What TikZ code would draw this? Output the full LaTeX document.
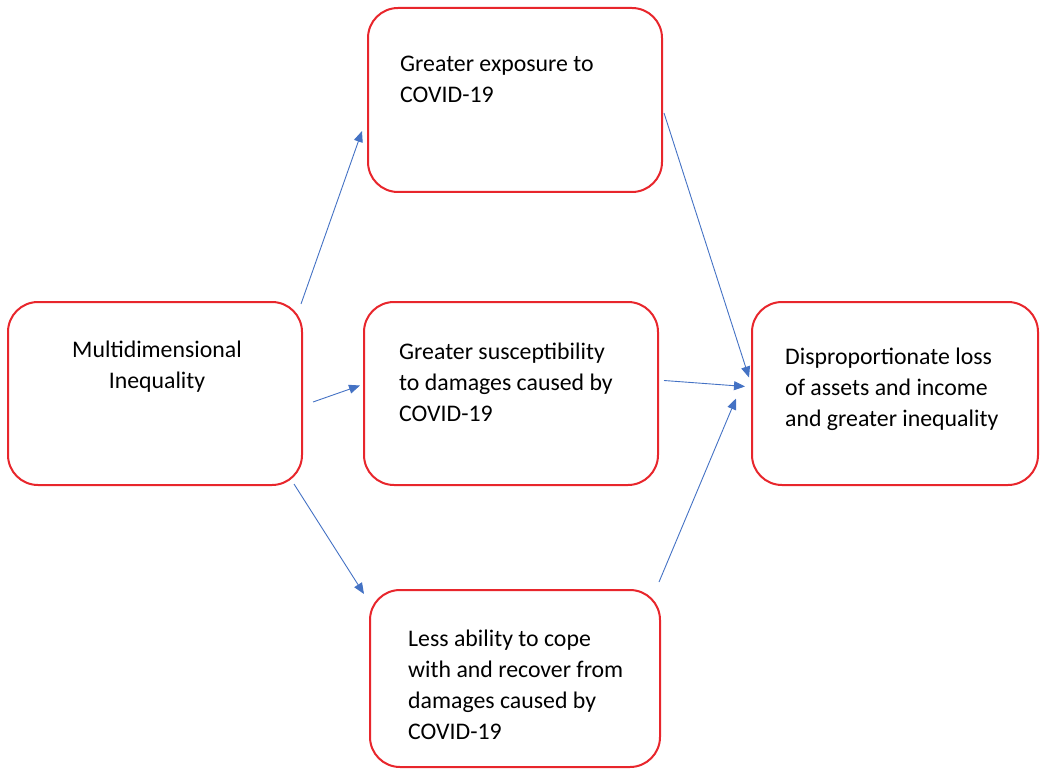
\documentclass[tikz,border=0pt]{standalone}
\usepackage{fontspec}
\setmainfont{Carlito}
\usepackage{tikz}
\usetikzlibrary{arrows.meta}

\definecolor{boxred}{HTML}{E8262C}
\definecolor{linkblue}{HTML}{4472C4}

\tikzset{
    stage/.style={draw=boxred, line width=2pt, rounded corners=30pt, fill=white},
    stagetext/.style={inner sep=0pt, anchor=north west, align=left,
        font=\fontsize{23.8}{31}\selectfont, text=black},
    link/.style={draw=linkblue, line width=0.9pt, -{Triangle[length=11pt,width=9pt]}}
}

\begin{document}
\begin{tikzpicture}[x=1pt, y=-1pt]
    \useasboundingbox (0,0) rectangle (1041,770);

    % Kaesten
    \node[stage, minimum width=294pt, minimum height=183pt] (ineq) at (155,393.5) {};
    \node[stage, minimum width=294pt, minimum height=184pt] (expo) at (515,100) {};
    \node[stage, minimum width=294pt, minimum height=183pt] (susc) at (511,393.5) {};
    \node[stage, minimum width=290pt, minimum height=177pt] (cope) at (515,678.5) {};
    \node[stage, minimum width=286pt, minimum height=183pt] (loss) at (895,393.5) {};

    % Texte
    \node[stagetext, anchor=north, align=center] (ineqtext) at ([shift={(2,34.3)}]ineq.north)
        {\strut Multidimensional\\Inequality};
    \node[stagetext] (expotext) at ([shift={(33,42.3)}]expo.north west)
        {\strut Greater exposure to\\COVID-19};
    \node[stagetext] (susctext) at ([shift={(36,36.3)}]susc.north west)
        {\strut Greater susceptibility\\to damages caused by\\COVID-19};
    \node[stagetext] (copetext) at ([shift={(39,35.3)}]cope.north west)
        {\strut Less ability to cope\\with and recover from\\damages caused by\\COVID-19};
    \node[stagetext] (losstext) at ([shift={(34,41.3)}]loss.north west)
        {\strut Disproportionate loss\\of assets and income\\and greater inequality};

    % Pfeile
    \draw[link] ([shift={(-2,3)}]ineq.north east) -- ([shift={(-5,31)}]expo.west);
    \draw[link] ([shift={(10,8.5)}]ineq.east) -- ([shift={(-3,-8)}]susc.west);
    \draw[link] ([shift={(-9,-2)}]ineq.south east) -- ([shift={(-5,5)}]cope.north west);
    \draw[link] ([shift={(1,13)}]expo.east) -- ([shift={(-2,-16)}]loss.west);
    \draw[link] ([shift={(5,-13)}]susc.east) -- ([shift={(-6,-7)}]loss.west);
    \draw[link] ([shift={(-2,-7)}]cope.north east) -- ([shift={(-15,5)}]loss.west);
\end{tikzpicture}
\end{document}
